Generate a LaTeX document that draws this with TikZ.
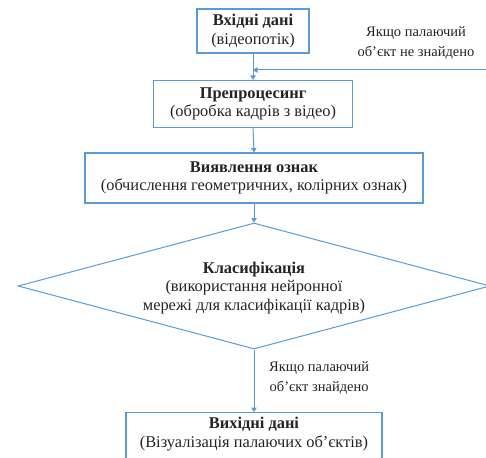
\documentclass[tikz,border=0pt]{standalone}
\usepackage{fontspec}
\setmainfont{Liberation Serif}
\usetikzlibrary{arrows.meta,shapes.geometric}
\definecolor{lineblue}{RGB}{91,155,213}
\definecolor{txt}{RGB}{35,35,35}
\begin{document}
\begin{tikzpicture}[x=1pt,y=-1pt,
  box/.style={draw=lineblue, line width=1.2pt, align=center, inner sep=0pt, text=txt,
    font=\fontsize{16.4}{18.5}\selectfont},
  conn/.style={draw=lineblue, line width=1pt, -{Triangle[width=5.5pt,length=4.5pt]}},
  lbl/.style={align=center, text=txt, inner sep=0pt, font=\fontsize{14.5}{20}\selectfont}]
\useasboundingbox (0,0) rectangle (486,457);
\clip (0,0) rectangle (486,457);
\node[box, minimum width=112pt, minimum height=44pt] (in) at (253,31)
  {\textbf{Вхідні дані}\\(відеопотік)};
\node[box, minimum width=199pt, minimum height=47pt] (pre) at (253,104)
  {\textbf{Препроцесинг}\\(обробка кадрів з відео)};
\node[box, minimum width=338pt, minimum height=50pt] (feat) at (254,178)
  {\textbf{Виявлення ознак}\\(обчислення геометричних, колірних ознак)};
\node[draw=lineblue, line width=1pt, diamond, inner sep=0pt,
  minimum width=472pt, minimum height=126pt] (cls) at (254,286) {};
\node[box, draw=none] (clstext) at (254,288)
  {\textbf{Класифікація}\\(використання нейронної\\мережі для класифікації кадрів)};
\node[box, minimum width=256pt, minimum height=60pt, anchor=north] (out) at (254,412) {};
\node[box, draw=none] (outtext) at (254,434)
  {\textbf{Вихідні дані}\\(Візуалізація палаючих об’єктів)};
\coordinate (fbstart) at (486,70);
\coordinate (fbend) at (253,70);
\node[lbl] (fblabel) at (416,43) {Якщо палаючий\\об’єкт не знайдено};
\node[lbl, anchor=west] (oklabel) at (269,378) {Якщо палаючий\\об’єкт знайдено};
\draw[conn] (in.south) -- (pre.north);
\draw[conn] (fbstart) -- (fbend);
\draw[conn] (pre.south) -- (feat.north);
\draw[conn] (feat.south) -- (cls.north);
\draw[conn] (cls.south) -- (out.north);
\end{tikzpicture}
\end{document}
